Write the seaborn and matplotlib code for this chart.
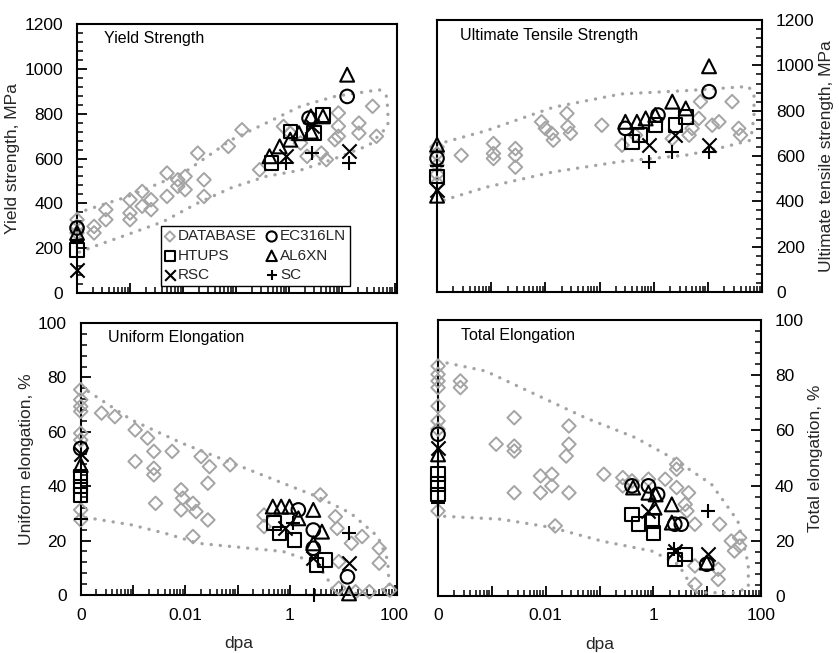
import matplotlib
matplotlib.use('Agg')
import matplotlib.pyplot as plt
import seaborn as sns
import numpy as np
from matplotlib.ticker import FixedLocator, FuncFormatter, MultipleLocator, AutoMinorLocator, NullFormatter

# ---------------- data (dpa = 0 is unirradiated) ----------------
# Yield strength, MPa
ys_db_dpa = [0, 0, 0, 0.00021, 0.00021, 0.00035, 0.00035, 0.001, 0.001, 0.001, 0.0017, 0.0017,
             0.0025, 0.0025, 0.005, 0.005, 0.008, 0.008, 0.011, 0.011, 0.019, 0.025, 0.025, 0.072,
             0.13, 0.28, 0.79, 1.06, 1.66, 2.2, 4.1, 5.1, 7.4, 8.6, 8.6, 8.6, 21, 21, 38, 45]
ys_db_mpa = [327, 297, 268, 297, 268, 372, 327, 416, 357, 327, 453, 387,
             416, 372, 535, 431, 505, 476, 461, 520, 624, 505, 431, 654,
             728, 550, 743, 713, 669, 610, 624, 595, 684, 803, 744, 699, 758, 713, 833, 699]
ys_env_dpa = [0.0001, 0.00093, 0.0102, 0.083, 0.37, 1.66, 7.4, 51, 69, 74, 74, 33, 7.4, 1.66,
              0.37, 0.083, 0.0186, 0.0042, 0.00093, 0.00021, 0.0001]
ys_env_mpa = [357, 431, 535, 684, 758, 833, 877, 907, 880, 818, 744, 660, 600, 548,
              520, 470, 400, 318, 262, 208, 178]
ys_htups_dpa = [0, 0.47, 1.07, 3.0, 4.4]
ys_htups_mpa = [193, 580, 721, 714, 795]
ys_ec_dpa = [0, 2.4, 12.6]
ys_ec_mpa = [290, 780, 877]
ys_al_dpa = [0, 0.43, 0.67, 1.06, 1.55, 2.6, 2.6, 4.4, 12.6]
ys_al_mpa = [268, 610, 654, 684, 713, 720, 788, 788, 974]
ys_rsc_dpa = [0, 0.87, 2.7, 13.5]
ys_rsc_mpa = [104, 610, 743, 632]
ys_sc_dpa = [0, 0.87, 2.7, 13.5]
ys_sc_mpa = [230, 580, 624, 580]

# Ultimate tensile strength, MPa
uts_db_dpa = [0, 0, 0, 0, 0, 0.00028, 0.0011, 0.0011, 0.0011, 0.0028, 0.0028, 0.0028,
              0.0085, 0.01, 0.013, 0.014, 0.025, 0.026, 0.029, 0.11, 0.26, 0.46, 2.2, 4.5,
              5.1, 6.8, 7.3, 12, 16, 28, 37, 40]
uts_db_mpa = [640, 610, 560, 520, 480, 603, 655, 611, 589, 633, 603, 551,
              751, 722, 700, 670, 788, 729, 700, 736, 648, 692, 677, 692,
              722, 766, 840, 736, 751, 840, 722, 692]
uts_env_dpa = [0.0001, 0.00079, 0.014, 0.25, 4.3, 56, 71, 71, 62, 20, 4.3, 0.25, 0.014, 0.00079, 0.0001]
uts_env_mpa = [652, 711, 815, 874, 889, 907, 870, 781, 670, 640, 605, 576, 530, 462, 396]
uts_htups_dpa = [0, 0.4, 0.56, 1.07, 2.5, 3.9]
uts_htups_mpa = [510, 662, 692, 736, 736, 773]
uts_ec_dpa = [0, 0.30, 1.2, 10.5]
uts_ec_mpa = [590, 722, 781, 884]
uts_al_dpa = [0, 0, 0.30, 0.49, 0.71, 1.07, 2.2, 3.9, 10.5]
uts_al_mpa = [650, 425, 751, 751, 766, 781, 840, 810, 996]
uts_rsc_dpa = [0, 0.81, 2.5, 10.5]
uts_rsc_mpa = [450, 648, 692, 648]
uts_sc_dpa = [0, 0.81, 2.2, 10.5]
uts_sc_mpa = [555, 573, 618, 618]

# Uniform elongation, %
ue_db_dpa = [0, 0, 0, 0, 0, 0, 0, 0, 0.00025, 0.00045, 0.0011, 0.0011, 0.0019, 0.0025, 0.0025,
             0.0025, 0.0027, 0.0056, 0.0083, 0.0089, 0.0083, 0.014, 0.016, 0.014, 0.02, 0.029,
             0.027, 0.027, 0.072, 0.32, 0.32, 3.8, 7.4, 8.0, 8.6, 8.6, 15, 24, 18, 33, 51, 51, 81]
ue_db_pct = [75.5, 71.8, 69.3, 67.5, 59.5, 57, 31.3, 27.6, 66.9, 65.6, 60.7, 49.1, 57.7, 52.8, 46.6,
             44.2, 33.7, 52.8, 38.7, 35.6, 31.3, 33.7, 30.7, 21.5, 50.9, 47.2,
             41.1, 27.6, 47.9, 29.4, 25.2, 36.8, 28.8, 24.5, 12.3, 2.5, 19, 21.5, 1.2, 1.2, 17.2, 11.7, 1.8]
ue_env_dpa = [0.0001, 0.00093, 0.0087, 0.079, 0.74, 3.3, 14.5, 48, 74, 79, 40, 6.9, 5.9, 3.3,
              0.74, 0.079, 0.018, 0.0041, 0.00093, 0.0001]
ue_env_pct = [76.7, 64.4, 55.8, 48.5, 41.1, 36.2, 30.1, 21.5, 12.9, 3.1, 0.6, 0.6, 4.3, 11.7,
              16, 17.8, 19, 22.7, 25.8, 28.8]
ue_htups_dpa = [0, 0, 0, 0.5, 0.63, 1.23, 3.2, 4.7]
ue_htups_pct = [43.6, 39.9, 36.8, 26.4, 22.7, 20.2, 11, 12.9]
ue_ec_dpa = [0, 1.45, 2.8, 2.8, 12.6]
ue_ec_pct = [53.9, 31.3, 23.9, 17.2, 6.7]
ue_al_dpa = [0, 0.47, 0.68, 0.98, 1.45, 2.8, 2.8, 4.1, 13.5]
ue_al_pct = [47.8, 32.5, 32.5, 32.5, 28.2, 31.3, 19, 23.3, 0.6]
ue_rsc_dpa = [0, 0.79, 2.8, 13.5]
ue_rsc_pct = [52, 24.5, 13.5, 11.7]
ue_sc_dpa = [0, 1.15, 2.95, 13.5]
ue_sc_pct = [28, 26.4, 0, 22.7]

# Total elongation, %
te_db_dpa = [0, 0, 0, 0, 0, 0, 0, 0, 0.00026, 0.00026, 0.0012, 0.0026, 0.0026, 0.0026, 0.0026,
             0.008, 0.008, 0.013, 0.013, 0.015, 0.027, 0.027, 0.024, 0.027, 0.12, 0.27, 0.27,
             0.4, 0.81, 1.66, 2.7, 2.7, 2.7, 4.5, 3.9, 4.2, 5.9, 5.9, 5.9, 17, 16, 16, 28, 32, 40, 40]
te_db_pct = [83.3, 80.3, 77.9, 75.5, 68.8, 63.4, 60.4, 30.8, 77.9, 75.5, 55, 64.6, 54.3, 52.5, 37.4,
             43.5, 37.4, 44.1, 39.9, 25.4, 61.6, 55, 50.7, 37.4, 44.1, 42.9, 39.9,
             41.7, 42.3, 42.3, 45.9, 47.7, 39.3, 37.4, 33.2, 30.8, 26, 10.9, 4.2, 26, 9.7, 6, 19.9, 16.3, 21.1, 18.1]
te_env_dpa = [0.0001, 0.00076, 0.0065, 0.054, 0.46, 2.2, 12, 37, 58, 58, 32, 5.9, 4.5, 2.9,
              0.93, 0.11, 0.013, 0.0015, 0.0001]
te_env_pct = [85.1, 81.5, 73, 64.6, 57.4, 50.1, 40.5, 27.2, 11.5, 3, 1.2, 1.2, 5.4, 11.5,
              16.3, 19.9, 24.8, 27.8, 29]
te_htups_dpa = [0, 0, 0, 0.4, 0.53, 0.97, 1.0, 2.5, 3.9]
te_htups_pct = [44.1, 40.5, 36.8, 29.6, 26, 27.2, 22.9, 13.3, 15.1]
te_ec_dpa = [0, 0.4, 0.81, 1.2, 2.5, 3.3, 9.8]
te_ec_pct = [58.6, 39.9, 39.9, 36.8, 26, 26, 11.5]
te_al_dpa = [0, 0.42, 0.81, 1.05, 1.1, 2.2, 2.2, 9.8]
te_al_pct = [51.3, 39.3, 37.4, 32, 36.8, 33.2, 26.6, 12.1]
te_rsc_dpa = [0, 0.81, 2.5, 10.5]
te_rsc_pct = [53.7, 30.8, 16.3, 15.1]
te_sc_dpa = [0, 2.4, 10.5]
te_sc_pct = [33.8, 16.9, 30.8]

# ---------------- styling ----------------
sns.set_theme(style='white')
plt.rcParams['font.family'] = ['Liberation Sans', 'DejaVu Sans']

ZERO_AT = 1e-4          # where the "0 dpa" column sits on the log axis
GRAY = '#a4a4a4'
MARKS = {'HTUPS': 's', 'EC316LN': 'o', 'AL6XN': '^', 'RSC': 'x', 'SC': '+'}
SIZES = {'HTUPS': 95, 'EC316LN': 95, 'AL6XN': 100, 'RSC': 105, 'SC': 110}
TICK_LABELS = {1e-4: '0', 1e-2: '0.01', 1.0: '1', 1e2: '100'}


def at(x):
    x = np.asarray(x, float)
    return np.where(x == 0, ZERO_AT, x)


def xfmt(v, pos):
    for k, s in TICK_LABELS.items():
        if np.isclose(v, k):
            return s
    return ''


def draw_panel(ax, title, db, env, series, ymax, ystep, xmax, right, bottom, ylabel):
    ax.set_xscale('log')
    sns.lineplot(x=at(env[0]), y=env[1], sort=False, estimator=None, ax=ax, color=GRAY,
                 lw=2.4, linestyle=(0, (0.05, 2.7)), dash_capstyle='round', zorder=2)
    sns.scatterplot(x=at(db[0]), y=db[1], marker='D', s=48, facecolor='none', edgecolor=GRAY,
                    linewidth=1.4, ax=ax, clip_on=False, zorder=3, label='DATABASE', legend=False)
    for name, (xs, ys) in series.items():
        m = MARKS[name]
        if m in ('x', '+'):
            sns.scatterplot(x=at(xs), y=ys, marker=m, s=SIZES[name], color='black', linewidth=1.5,
                            ax=ax, clip_on=False, zorder=4, label=name, legend=False)
        else:
            sns.scatterplot(x=at(xs), y=ys, marker=m, s=SIZES[name], facecolor='none',
                            edgecolor='black', linewidth=1.5, ax=ax, clip_on=False, zorder=4,
                            label=name, legend=False)

    ax.set_xlim(ZERO_AT, xmax)
    ax.set_ylim(0, ymax)
    ax.xaxis.set_major_locator(FixedLocator([1e-4, 1e-3, 1e-2, 1e-1, 1, 10, 100]))
    ax.xaxis.set_minor_locator(FixedLocator([m * 10.0 ** e for e in range(-4, 2) for m in range(2, 10)]))
    ax.xaxis.set_minor_formatter(NullFormatter())
    if bottom:
        ax.xaxis.set_major_formatter(FuncFormatter(xfmt))
        ax.set_xlabel('dpa', fontsize=12.5, labelpad=10)
    else:
        ax.xaxis.set_major_formatter(NullFormatter())
        ax.set_xlabel('')
    ax.yaxis.set_major_locator(MultipleLocator(ystep))
    ax.yaxis.set_minor_locator(AutoMinorLocator(5))

    for sp in ax.spines.values():
        sp.set_linewidth(1.5)
        sp.set_color('black')
    ax.tick_params(axis='both', which='both', direction='in', colors='black', labelsize=12.5)
    ax.tick_params(axis='x', which='major', length=7, width=1.3, bottom=True, top=False, pad=9)
    ax.tick_params(axis='x', which='minor', length=4, width=1.1, bottom=True, top=False)
    ax.tick_params(axis='y', which='major', length=7, width=1.3, pad=10)
    ax.tick_params(axis='y', which='minor', length=4, width=1.1)
    if right:
        ax.yaxis.tick_right()
        ax.yaxis.set_label_position('right')
        ax.tick_params(axis='y', which='both', left=False, right=True)
    else:
        ax.tick_params(axis='y', which='both', left=True, right=False)
    ax.set_ylabel(ylabel, fontsize=12.5, labelpad=3 if not right else 3)
    ax.text(0.085 if not right else 0.07, 0.945, title, transform=ax.transAxes,
            fontsize=11.5, va='center', ha='left', color='black')
    ax.grid(False)


fig = plt.figure(figsize=(8.39, 6.53), dpi=100)
ax_ys = fig.add_axes([0.0918, 0.5513, 0.3814, 0.4119])
ax_uts = fig.add_axes([0.5209, 0.5528, 0.3874, 0.4165])
ax_ue = fig.add_axes([0.0962, 0.0888, 0.3766, 0.4165])
ax_te = fig.add_axes([0.5221, 0.0873, 0.3850, 0.4227])

draw_panel(ax_ys, 'Yield Strength', (ys_db_dpa, ys_db_mpa), (ys_env_dpa, ys_env_mpa),
           {'HTUPS': (ys_htups_dpa, ys_htups_mpa), 'EC316LN': (ys_ec_dpa, ys_ec_mpa),
            'AL6XN': (ys_al_dpa, ys_al_mpa), 'RSC': (ys_rsc_dpa, ys_rsc_mpa), 'SC': (ys_sc_dpa, ys_sc_mpa)},
           1200, 200, 110, right=False, bottom=False, ylabel='Yield strength, MPa')
draw_panel(ax_uts, 'Ultimate Tensile Strength', (uts_db_dpa, uts_db_mpa), (uts_env_dpa, uts_env_mpa),
           {'HTUPS': (uts_htups_dpa, uts_htups_mpa), 'EC316LN': (uts_ec_dpa, uts_ec_mpa),
            'AL6XN': (uts_al_dpa, uts_al_mpa), 'RSC': (uts_rsc_dpa, uts_rsc_mpa), 'SC': (uts_sc_dpa, uts_sc_mpa)},
           1200, 200, 100, right=True, bottom=False, ylabel='Ultimate tensile strength, MPa')
draw_panel(ax_ue, 'Uniform Elongation', (ue_db_dpa, ue_db_pct), (ue_env_dpa, ue_env_pct),
           {'HTUPS': (ue_htups_dpa, ue_htups_pct), 'EC316LN': (ue_ec_dpa, ue_ec_pct),
            'AL6XN': (ue_al_dpa, ue_al_pct), 'RSC': (ue_rsc_dpa, ue_rsc_pct), 'SC': (ue_sc_dpa, ue_sc_pct)},
           100, 20, 110, right=False, bottom=True, ylabel='Uniform elongation, %')
draw_panel(ax_te, 'Total Elongation', (te_db_dpa, te_db_pct), (te_env_dpa, te_env_pct),
           {'HTUPS': (te_htups_dpa, te_htups_pct), 'EC316LN': (te_ec_dpa, te_ec_pct),
            'AL6XN': (te_al_dpa, te_al_pct), 'RSC': (te_rsc_dpa, te_rsc_pct), 'SC': (te_sc_dpa, te_sc_pct)},
           100, 20, 100, right=True, bottom=True, ylabel='Total elongation, %')

# legend in the yield strength panel, filled column by column
handles, labels = ax_ys.get_legend_handles_labels()
lookup = dict(zip(labels, handles))
order = ['DATABASE', 'HTUPS', 'RSC', 'EC316LN', 'AL6XN', 'SC']
leg = ax_ys.legend([lookup[k] for k in order], order, ncol=2, loc='lower right',
                   bbox_to_anchor=(0.853, 0.026), fontsize=11, markerscale=0.75, frameon=True,
                   fancybox=False, edgecolor='black', framealpha=1, borderpad=0.25,
                   handletextpad=0.25, columnspacing=0.65, labelspacing=0.35, handlelength=0.6,
                   borderaxespad=0)
leg.get_frame().set_linewidth(1.0)

fig.savefig('out.png', dpi=100)
